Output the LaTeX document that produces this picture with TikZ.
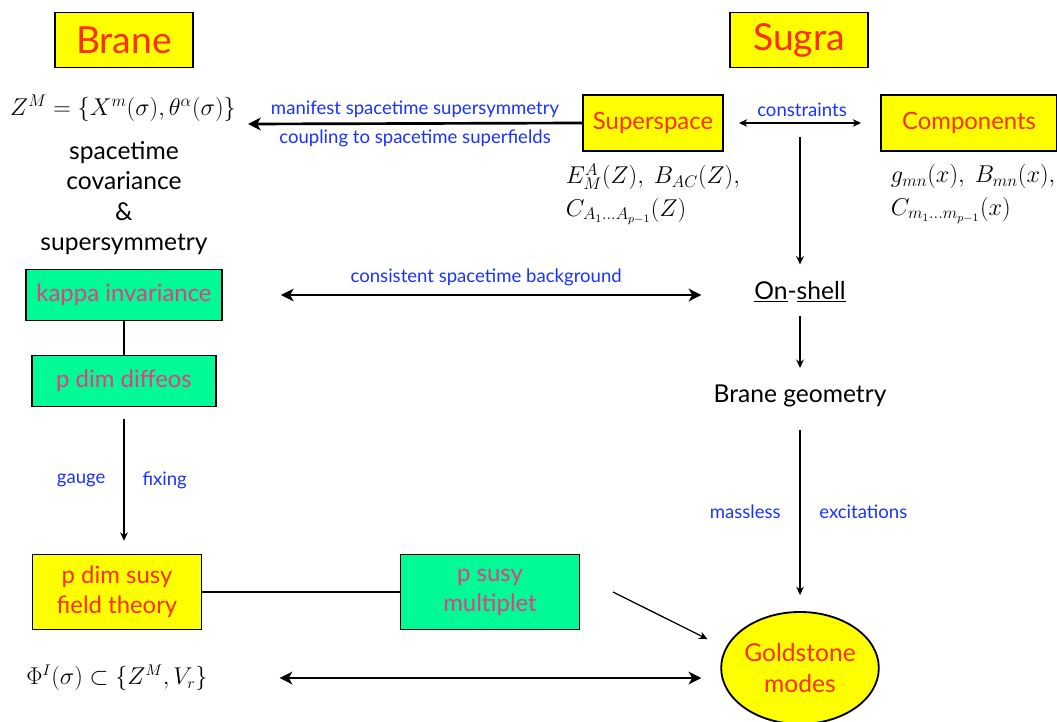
\documentclass[tikz,border=0pt]{standalone}
\usepackage{fontspec}
\setmainfont{Lato}
\usepackage{tikz}
\usetikzlibrary{positioning,shapes.geometric,arrows.meta}
\definecolor{yel}{RGB}{255,255,0}
\definecolor{grn}{RGB}{0,250,150}
\definecolor{redtxt}{RGB}{255,45,0}
\definecolor{pinktxt}{RGB}{232,60,130}
\definecolor{bluetxt}{RGB}{25,50,255}
\tikzset{
  tt/.style={rectangle, draw=black, line width=1.3pt, fill=yel, text=redtxt, minimum width=3.45cm, minimum height=1.375cm, font=\fontsize{26.5}{30}\selectfont},
  yb/.style={rectangle, draw=black, line width=1.3pt, fill=yel, text=redtxt, text centered, align=center, font=\fontsize{17}{21.5}\selectfont},
  gb/.style={rectangle, draw=black, line width=1.3pt, fill=grn, text=pinktxt, text centered, align=center, font=\fontsize{17}{21.5}\selectfont},
  tx/.style={align=center, font=\fontsize{17.5}{21.5}\selectfont},
  lb/.style={text=bluetxt, font=\fontsize{13.2}{15}\selectfont},
  ar/.style={line width=0.9pt, -{Stealth[length=6pt,width=5.5pt]}},
  ln/.style={line width=0.9pt},
  bar/.style={line width=1.9pt, -{Stealth[length=9pt,width=9pt,inset=2.5pt]}},
  bdar/.style={line width=1.9pt, {Stealth[length=9pt,width=9pt,inset=2.5pt]}-{Stealth[length=9pt,width=9pt,inset=2.5pt]}},
  dar/.style={line width=0.9pt, {Stealth[length=6pt,width=5.5pt]}-{Stealth[length=6pt,width=5.5pt]}}
}
\begin{document}
\begin{tikzpicture}[x=0.025cm,y=-0.025cm]
	\useasboundingbox (0,0) rectangle (1057,722);
	% titles
	\node[tt] (brane) at (124,40) {Brane};
	\node[tt] (sugra) at (799,40) {Sugra};
	% brane side
	\node[font=\fontsize{17}{20}\selectfont] (zm) at (123,108) {$Z^M=\{X^m(\sigma),\theta^\alpha(\sigma)\}$};
	\node[tx] (cov) at (124,198) {spacetime\\covariance\\\&\\supersymmetry};
	\node[gb, minimum width=4.9cm, minimum height=1.275cm] (kappa) at (124,295) {kappa invariance};
	\node[gb, minimum width=4.6cm, minimum height=1.275cm] (diffeos) at (124,381) {p dim diffeos};
	\node[yb, minimum width=4.225cm, minimum height=1.875cm] (fieldth) at (117,592) {p dim susy\\field theory};
	\node[gb, minimum width=4.475cm, minimum height=1.875cm] (multiplet) at (490,592) {p susy\\multiplet};
	\node[font=\fontsize{16}{20}\selectfont] (phi) at (117,678) {$\Phi^I(\sigma)\subset\{Z^M,V_r\}$};
	% sugra side
	\node[yb, minimum width=3.5cm, minimum height=1.4cm] (superspace) at (653,123) {Superspace};
	\node[yb, minimum width=4.4cm, minimum height=1.4cm] (components) at (969,123) {Components};
	\node[anchor=west, align=left, font=\fontsize{16.5}{23}\selectfont] (efields) at (561,194) {$E_M^A(Z),\ B_{AC}(Z),$\\$C_{A_1\dots A_{p-1}}(Z)$};
	\node[anchor=west, align=left, font=\fontsize{17}{23}\selectfont] (gfields) at (886,194) {$g_{mn}(x),\ B_{mn}(x),$\\$C_{m_1\dots m_{p-1}}(x)$};
	\node[tx] (onshell) at (800,292) {\underline{On}-\underline{shell}};
	\node[tx] (geometry) at (800,396) {Brane geometry};
	\node[ellipse, draw=black, line width=1.3pt, fill=yel, text=redtxt, align=center, inner sep=0pt, minimum width=3.9cm, minimum height=2.8cm, font=\fontsize{17.5}{22.5}\selectfont] (goldstone) at (800,668) {Goldstone\\modes};
	\coordinate (cstart) at (800,137);
	\coordinate (zmend) at (248,124);
	\coordinate (mstart) at (613,592);
	% connectors
	\draw[bar] (superspace.west) -- (zmend)
		node[lb, pos=0.5, above=0pt] {manifest spacetime supersymmetry}
		node[lb, pos=0.5, below=0pt] {coupling to spacetime superfields};
	\draw[dar, shorten <=0.375cm, shorten >=0.475cm] (superspace.east) -- (components.west)
		node[lb, midway, above=1pt] {constraints};
	\draw[ar, shorten >=0.3cm] (cstart) -- (onshell.north);
	\draw[bdar, shorten <=1.45cm, shorten >=1.2cm] (kappa.east) -- (kappa.east -| onshell.west)
		node[lb, midway, above=2pt] {consistent spacetime background};
	\draw[ar, shorten <=0.2cm, shorten >=0.3cm] (onshell) -- (geometry);
	\draw[ar, shorten <=0.45cm, shorten >=0.4cm] (geometry) -- (goldstone)
		node[lb, midway, left=0.35cm] {massless}
		node[lb, midway, right=0.35cm] {excitations};
	\draw[ln] (kappa) -- (diffeos);
	\draw[ar, shorten <=0.3cm, shorten >=0.32cm] (diffeos) -- (fieldth.north -| diffeos)
		node[lb, midway, left=0.33cm] {gauge}
		node[lb, midway, right=0.33cm] {fixing};
	\draw[ln] (fieldth) -- (multiplet);
	\draw[ar, shorten >=0.5cm] (mstart) -- (goldstone.165);
	\draw[bdar, shorten <=6.2cm, shorten >=0.475cm] (phi.east -| fieldth.west) -- (phi.east -| goldstone.west);
\end{tikzpicture}
\end{document}
